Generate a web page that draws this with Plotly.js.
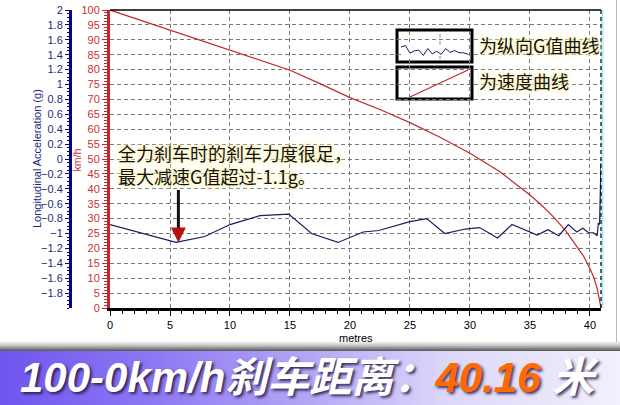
<!DOCTYPE html>
<html><head><meta charset="utf-8">
<script src="https://cdn.plot.ly/plotly-3.0.1.min.js"></script>
<style>
html,body{margin:0;padding:0;background:#fff;}
#wrap{position:relative;width:620px;height:405px;overflow:hidden;}
#shadow{position:absolute;left:0;top:341px;width:620px;height:10px;background:linear-gradient(to bottom,#ffffff 0%,#c4c4c4 45%,#555555 100%);}
#banner{position:absolute;left:0;top:351px;width:620px;height:54px;background:linear-gradient(to right,#6f55ee 0%,#8e78f2 25%,#b4a7f6 50%,#dcd7fa 72%,#f2f0fc 100%);}
#frame{position:absolute;left:616px;top:0;width:1px;height:342px;background:#b8b8b8;}
#chart{position:absolute;left:0;top:0;width:620px;height:405px;}
</style></head>
<body><div id="wrap"><div id="shadow"></div><div id="banner"></div><div id="frame"></div><div id="chart"></div></div>
<script>
// ---- data ----
const speedX   = [0, 2.5, 5, 7.5, 10, 12.5, 15, 17.5, 20, 22.5, 25, 27.5, 30, 32.5, 35, 36, 37, 38, 39, 39.5, 40, 40.3, 40.6, 40.92];
const speedKmh = [100, 96.6, 93.2, 89.9, 86.5, 83.2, 79.8, 75.3, 70.6, 66.6, 62.2, 57.3, 51.9, 45.7, 37.9, 34.4, 30.4, 25.8, 20.2, 17.2, 13.2, 10.5, 6.6, 0];

const gX   = [0, 5.5, 7.9, 10, 12.5, 14.9, 16.8, 19.0, 21.1, 22.4, 25, 26.4, 27.9, 29.6, 30.8, 32.3, 33.5, 35.6, 36.5, 37.4, 38.2, 38.9, 39.4, 39.9, 40.3, 40.6, 40.7, 40.8, 40.92];
const gVal = [-0.88, -1.12, -1.04, -0.88, -0.76, -0.74, -1.0, -1.12, -0.98, -0.96, -0.84, -0.8, -1.0, -0.94, -0.92, -1.06, -0.88, -1.02, -0.95, -1.03, -0.88, -0.98, -0.93, -0.99, -0.99, -1.03, -0.86, -0.88, -0.05];

const xTicks     = [0, 5, 10, 15, 20, 25, 30, 35, 40];
const speedTicks = [0,5,10,15,20,25,30,35,40,45,50,55,60,65,70,75,80,85,90,95,100];
const accelTicks = [2,1.8,1.6,1.4,1.2,1,0.8,0.6,0.4,0.2,0,-0.2,-0.4,-0.6,-0.8,-1,-1.2,-1.4,-1.6,-1.8];

const noteLine1 = '全力刹车时的刹车力度很足，';
const noteLine2 = '最大减速G值超过-1.1g。';
const legendG = '为纵向G值曲线';
const legendV = '为速度曲线';
const bannerLead = '100-0km/h刹车距离：';
const bannerValue = '40.16';
const bannerUnit = '米';

// ---- layout helpers (pixel -> paper) ----
const W = 601, TOP = 10, BOT = 308, H = BOT - TOP;
const px = p => p / W;
const py = y => (BOT - y) / H;

const RED = '#c0282d', RED_TXT = '#c83232', NAVY = '#00008b', NAVY_TXT = '#1c2a80', CURVE_G = '#1b1b62';
const tickFont = c => ({family: 'Liberation Sans, Arial, sans-serif', size: 11, color: c});
const cjk = 'Noto Sans CJK SC, sans-serif';
const glow = '0 0 2px #fff6c0, 0 0 4px #fff6c0, 0 0 6px #fff6c0, 0 0 8px #fff6c0';

const miniY = gVal.slice(10, 26);
const miniIdx = miniY.map((_, i) => i);

const traces = [
  {x: speedX, y: speedKmh, xaxis: 'x', yaxis: 'y', mode: 'lines', line: {color: RED, width: 1.2}, hoverinfo: 'skip'},
  {x: gX, y: gVal, xaxis: 'x', yaxis: 'y2', mode: 'lines', line: {color: CURVE_G, width: 1.2}, hoverinfo: 'skip'},
  {x: miniIdx, y: miniY, xaxis: 'x3', yaxis: 'y3', mode: 'lines', line: {color: CURVE_G, width: 1}, hoverinfo: 'skip'}
];

const ann = (o) => Object.assign({xref: 'paper', yref: 'paper', showarrow: false, xanchor: 'center', yanchor: 'middle'}, o);

const layout = {
  width: 620, height: 405,
  margin: {l: 0, r: 19, t: 10, b: 97, pad: 0},
  paper_bgcolor: 'rgba(0,0,0,0)', plot_bgcolor: '#ffffff',
  showlegend: false,
  xaxis: {
    domain: [px(110), 1], range: [0, 40.92], anchor: 'y',
    tickmode: 'array', tickvals: xTicks,
    showline: true, linecolor: '#000', linewidth: 3,
    ticks: 'outside', ticklen: 5, tickcolor: '#000', tickwidth: 1,
    tickfont: tickFont('#000'),
    showgrid: true, gridcolor: '#7a7a7a', griddash: '4px,3px', gridwidth: 1,
    zeroline: false,
    minor: {dtick: 1, tick0: 0, ticklen: 3, tickcolor: '#000', showgrid: false}
  },
  yaxis: {
    domain: [0, 1], range: [0, 100], anchor: 'x', side: 'left',
    tickmode: 'array', tickvals: speedTicks,
    showline: true, linecolor: RED, linewidth: 3,
    ticks: 'outside', ticklen: 5, tickcolor: RED, tickwidth: 1,
    tickfont: tickFont(RED_TXT),
    showgrid: true, gridcolor: '#7a7a7a', griddash: '4px,3px', gridwidth: 1,
    zeroline: false,
    minor: {dtick: 1, tick0: 0, ticklen: 3, tickcolor: RED, showgrid: false}
  },
  yaxis2: {
    overlaying: 'y', anchor: 'free', position: px(70), side: 'left',
    range: [-2, 2], tickmode: 'array', tickvals: accelTicks,
    showline: true, linecolor: NAVY, linewidth: 3,
    ticks: 'outside', ticklen: 4, tickcolor: NAVY, tickwidth: 1,
    tickfont: tickFont(NAVY_TXT),
    showgrid: false, zeroline: false,
    minor: {dtick: 0.05, tick0: 0, ticklen: 2, tickcolor: NAVY, showgrid: false}
  },
  xaxis3: {domain: [px(401), px(468)], anchor: 'y3', visible: false, fixedrange: true},
  yaxis3: {domain: [py(56), py(45)], anchor: 'x3', visible: false, fixedrange: true},
  shapes: [
    {type: 'line', xref: 'paper', yref: 'paper', x0: px(110), x1: 1, y0: 1, y1: 1, line: {color: '#000', width: 1.5}},
    {type: 'line', xref: 'paper', yref: 'paper', x0: px(602.5), x1: px(602.5), y0: 0, y1: 1, line: {color: '#a6ecf6', width: 2}},
    {type: 'line', xref: 'paper', yref: 'paper', x0: 1, x1: 1, y0: 0, y1: 1, line: {color: '#000', width: 1.2, dash: '4px,3px'}},
    {type: 'rect', xref: 'paper', yref: 'paper', layer: 'between', x0: px(397), x1: px(472), y0: py(62), y1: py(30), fillcolor: '#fff', line: {color: '#000', width: 3}},
    {type: 'rect', xref: 'paper', yref: 'paper', layer: 'between', x0: px(397), x1: px(472), y0: py(99), y1: py(67), fillcolor: '#fff', line: {color: '#000', width: 3}},
    {type: 'line', xref: 'paper', yref: 'paper', layer: 'between', x0: px(440), x1: px(440), y0: py(59), y1: py(33), line: {color: '#8a8a8a', width: 1, dash: '4px,3px'}},
    {type: 'line', xref: 'paper', yref: 'paper', x0: px(410), x1: px(468), y0: py(97), y1: py(70), line: {color: RED, width: 1.2}}
  ],
  annotations: [
    ann({x: px(36.5), y: py(158.5), text: 'Longitudinal Acceleration (g)', textangle: -90, font: {family: 'Liberation Sans, Arial, sans-serif', size: 11, color: NAVY_TXT}}),
    ann({x: px(76.5), y: py(160), text: 'km/h', textangle: -90, font: {family: 'Liberation Sans, Arial, sans-serif', size: 10.5, color: RED_TXT}}),
    ann({x: px(356), y: py(338), text: 'metres', font: {family: 'Liberation Sans, Arial, sans-serif', size: 11, color: '#000'}}),
    ann({x: px(116), xanchor: 'left', y: py(164), align: 'left', text: noteLine1 + '<br>' + noteLine2, font: {family: cjk, size: 18, color: '#111', shadow: glow}}),
    ann({x: px(477), xanchor: 'left', y: py(45), text: legendG, font: {family: cjk, size: 18, color: '#111', shadow: glow}}),
    ann({x: px(477), xanchor: 'left', y: py(81.5), text: legendV, font: {family: cjk, size: 18, color: '#111', shadow: glow}}),
    {xref: 'x', yref: 'y2', x: gX[1] + 0.2, y: gVal[1], text: '', showarrow: true, arrowhead: 0, arrowwidth: 3, arrowcolor: '#111', ax: 0, ay: -54, standoff: 14},
    {xref: 'x', yref: 'y2', x: gX[1] + 0.2, y: gVal[1], text: '', showarrow: true, arrowhead: 2, arrowsize: 1.15, arrowwidth: 2.6, arrowcolor: '#b31212', ax: 0, ay: -16},
    ann({x: px(18), xanchor: 'left', y: py(377.5),
     text: bannerLead + '<span style="color:#ff6a00">' + bannerValue + '</span> ' + bannerUnit,
     font: {family: 'Liberation Sans, Arial, Noto Sans CJK SC, sans-serif', size: 42, color: '#ffffff', weight: 'bold', style: 'italic', shadow: '2px 2px 3px rgba(30,20,70,0.85)'}})
  ]
};

Plotly.newPlot('chart', traces, layout, {displayModeBar: false, staticPlot: true});
</script></body></html>
